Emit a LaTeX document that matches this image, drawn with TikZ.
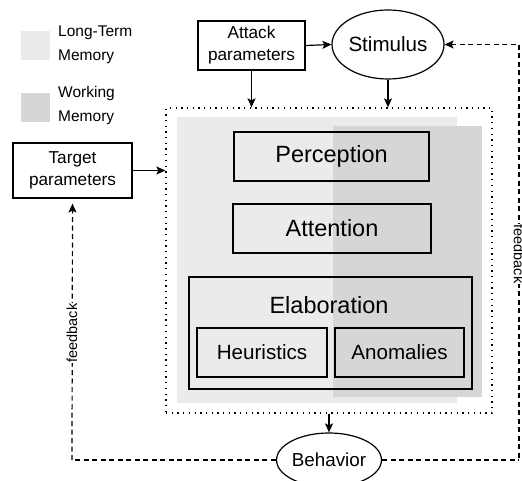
\documentclass[tikz,border=0pt]{standalone}
\usepackage{fontspec}
\setmainfont{Liberation Sans}
\usetikzlibrary{arrows.meta,shapes.geometric}
\definecolor{ltm}{HTML}{EBEBEB}
\definecolor{wm}{HTML}{D6D6D6}
\tikzset{
  box/.style={draw=black,line width=1.2pt,rectangle,inner sep=0pt,align=center},
  oval/.style={draw=black,line width=1.2pt,ellipse,inner sep=0pt,fill=white},
  arr/.style={line width=1.2pt,-{Stealth[length=9pt,width=8pt,inset=2pt]}},
  fb/.style={line width=1.2pt,dash pattern=on 5pt off 3.5pt},
  fblabel/.style={fill=white,inner sep=1pt,font=\fontsize{14.5}{16}\selectfont},
  big/.style={font=\fontsize{23.5}{28}\selectfont},
  mid/.style={font=\fontsize{20.6}{24}\selectfont},
}
\begin{document}
\begin{tikzpicture}[x=1pt,y=-1pt]
\useasboundingbox (0,0) rectangle (522,481);
% legend
\fill[ltm] (21,31) rectangle (50,60);
\fill[wm] (21,93) rectangle (50,122);
\node[anchor=west,align=left,inner sep=0pt,font=\fontsize{15.5}{24}\selectfont] (lgA) at (58,45) {Long-Term\\Memory};
\node[anchor=west,align=left,inner sep=0pt,font=\fontsize{15.5}{24}\selectfont] (lgB) at (58,105.5) {Working\\Memory};
% memory backgrounds
\fill[ltm] (177,117) rectangle (457,403);
\fill[wm] (333,126) rectangle (482,397);
% cognition dotted frame
\node[draw=black,line width=1.3pt,dash pattern=on 1.3pt off 4.4pt,minimum width=326pt,minimum height=305pt,inner sep=0pt] (cog) at (329,260.5) {};
% inner boxes
\node[box,big,minimum width=195pt,minimum height=49pt] (perc) at (331.5,156.5) {Perception};
\node[box,big,minimum width=198pt,minimum height=49pt] (att) at (332,228.5) {Attention};
\node[box,minimum width=283pt,minimum height=112pt] (elab) at (330.5,333) {};
\node[big,inner sep=0pt] (elabt) at (329,305) {Elaboration};
\node[box,mid,minimum width=130pt,minimum height=49pt] (heur) at (262,352.5) {Heuristics};
\node[box,mid,minimum width=129pt,minimum height=49pt] (anom) at (399.5,352.5) {Anomalies};
% parameters and ovals
\node[box,fill=white,minimum width=107pt,minimum height=49pt,font=\fontsize{17.2}{22}\selectfont] (attack) at (251.5,45.5) {Attack\\parameters};
\node[box,fill=white,minimum width=119pt,minimum height=55pt,font=\fontsize{17.2}{22}\selectfont] (target) at (72.5,170.5) {Target\\parameters};
\node[oval,mid,minimum width=112pt,minimum height=69pt] (stim) at (388,44.5) {Stimulus};
\node[oval,font=\fontsize{18.8}{22}\selectfont,minimum width=98pt,minimum height=54pt] (beh) at (329,460) {Behavior};
% arrows
\draw[arr] (attack.south) -- (attack.south |- cog.north);
\draw[arr] (stim.south) -- (stim.south |- cog.north);
\draw[arr] (attack.east) -- (stim.west);
\draw[arr] (target.east) -- (target.east -| cog.west);
\draw[arr] (cog.south) -- (beh.north);
% feedback loops
\coordinate (fr1) at (519,460);
\coordinate (fr2) at (519,44.5);
\coordinate (fl1) at (72,460);
\draw[fb] (beh.east) -- (fr1);
\draw[fb,{Stealth[length=9pt,width=8pt,inset=2pt]}-] (stim.east) -- (fr2) -- (fr1);
\draw[fb] (beh.west) -- (fl1);
\draw[fb,-{Stealth[length=9pt,width=8pt,inset=2pt]},shorten >=5pt] (fl1) -- (target.south);
\node[fblabel,rotate=-90] (fbr) at (519,254) {feedback};
\node[fblabel,rotate=90] (fbl) at (72,333) {feedback};
\end{tikzpicture}
\end{document}
